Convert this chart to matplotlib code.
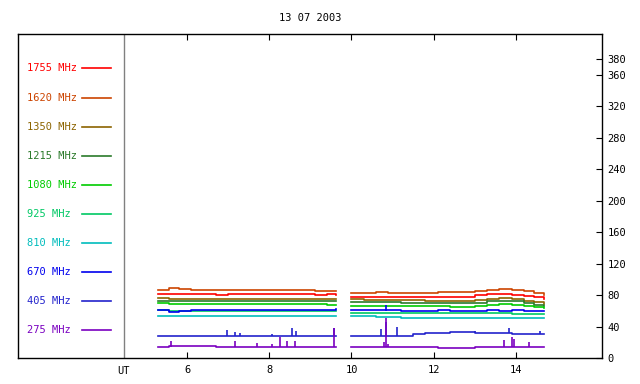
import matplotlib
matplotlib.use("Agg")
import matplotlib.pyplot as plt

# channels, top to bottom in the legend box
freqs = ["1755 MHz", "1620 MHz", "1350 MHz", "1215 MHz", "1080 MHz",
         "925 MHz", "810 MHz", "670 MHz", "405 MHz", "275 MHz"]
colors = ["#ff0000", "#cc4400", "#8c6400", "#2a7a2a", "#00cc00",
          "#00c864", "#00bcbc", "#0000ee", "#2222cc", "#7a00c0"]

# two observing runs (UT hours)
t1 = [5.30, 5.55, 5.8, 6.1, 6.4, 6.7, 7.0, 7.3, 7.6, 7.9, 8.2, 8.5, 8.8, 9.1, 9.4, 9.62]
t2 = [9.98, 10.3, 10.6, 10.9, 11.2, 11.5, 11.8, 12.1, 12.4, 12.7, 13.0, 13.3, 13.6,
      13.9, 14.2, 14.45, 14.68]

# flux levels (first run, second run)
v1755 = ([81, 81.5, 81, 81, 81, 80.5, 81, 81, 81, 81.5, 81, 81, 81, 80.5, 81, 80.5],
         [77.5, 77, 77, 77.5, 77, 77, 77, 77.5, 77.5, 78, 79.5, 81, 81.5, 80.5, 79, 77, 75])
v1620 = ([86.5, 88.5, 87.5, 87, 86.5, 86.5, 86.5, 86, 86.5, 86.5, 86.5, 86, 86, 85.5, 85, 85],
         [83, 83, 83.5, 83, 83, 83, 83, 83.5, 83.5, 84, 85, 86.5, 87.5, 86.5, 85, 83, 80.5])
v1350 = ([76, 75.5, 75.5, 75, 75, 75, 75, 75.5, 75.5, 75, 75, 75, 75, 75, 74.5, 74.5],
         [74.5, 74, 74, 74, 73.5, 73.5, 73, 73, 72.5, 72.5, 73.5, 75.5, 76, 75, 73, 71, 69])
v1215 = ([72.5, 73, 73, 72.5, 72.5, 73, 73, 72.5, 72.5, 73, 73, 73, 72.5, 72.5, 72.5, 72],
         [71.5, 71, 71, 71, 70.5, 70.5, 70, 70, 69.5, 69.5, 70.5, 72, 73, 72, 70, 68, 66])
v1080 = ([69.5, 69, 69, 69, 68.5, 68.5, 69, 69, 69, 69, 68.5, 68.5, 68.5, 68.5, 67.5, 67],
         [66.5, 66.5, 66.5, 66, 66, 66, 65.5, 65.5, 65, 65, 66, 67.5, 68.5, 68, 66.5, 65, 64])
v925 = ([60.5, 60, 60, 60, 60, 60, 60, 60, 60, 60, 60, 60, 60, 60, 60, 60],
        [57.5, 57.5, 57.5, 57.5, 57, 57, 57, 57, 57, 57, 57, 57, 57, 56.5, 56.5, 56.5, 56.5])
v810 = ([53, 53, 53.5, 53.5, 53, 53.5, 53.5, 53, 53, 53, 53, 53, 53.5, 53, 53, 53],
        [53, 53, 52.5, 52.5, 51.5, 51.5, 51.5, 51.5, 51.5, 51.5, 51.5, 51.5, 51.5, 51.5, 51.5, 51.5, 51.5])
v670 = ([61, 59, 59.5, 60.5, 61, 60.5, 61, 60.5, 61, 61, 60.5, 61, 60.5, 61, 61.5, 62],
        [61, 60.5, 60.5, 60.5, 60, 60, 60, 60.5, 60, 59.5, 60, 61, 60, 60.5, 60, 59.5, 60])
v405 = ([28.5, 28.5, 28.5, 28.5, 28.5, 28.5, 28.5, 28.5, 28.5, 28.5, 28.5, 28.5, 28.5, 28.5, 28.5, 28.5],
        [27.5, 27.5, 27.5, 28, 28.5, 30.5, 31.5, 32, 32.5, 32.5, 32, 32, 31.5, 30.5, 30, 30, 30])
v275 = ([14, 15, 15, 15, 15, 14.5, 14, 14.5, 14.5, 14.5, 14.5, 14.5, 14.5, 14.5, 14.5, 14.5],
        [14, 14, 14, 14, 14, 14, 14, 13, 13, 13, 14, 14, 14, 14, 14, 14, 14])
series = [v1755, v1620, v1350, v1215, v1080, v925, v810, v670, v405, v275]

# bursts: time, base, peak
spk405_t = [6.97, 7.17, 7.29, 8.06, 8.55, 8.65, 9.57, 10.73, 10.85, 11.1, 13.0, 13.84, 14.58]
spk405_lo = [28.5, 28.5, 28.5, 28.5, 28.5, 28.5, 28.5, 28, 28, 28, 32, 31.5, 30]
spk405_hi = [35.6, 33.5, 32, 31, 37.7, 34, 37.7, 36.5, 46, 40, 34.5, 38, 34]
spk275_t = [5.61, 7.17, 7.71, 8.06, 8.27, 8.43, 8.63, 9.57, 10.78, 10.85, 10.9, 13.72, 13.91, 13.95, 14.32]
spk275_lo = [14.5, 14.5, 14.5, 14.5, 14.5, 14.5, 14.5, 14.5, 14, 14, 14, 14, 14, 14, 14]
spk275_hi = [21.6, 21.6, 19, 18, 27, 21.6, 22, 37.7, 20, 51, 18, 23, 27, 24, 20]
spk670_t = [10.85]
spk670_lo = [60]
spk670_hi = [68]

yticks = [0, 40, 80, 120, 160, 200, 240, 280, 320, 360, 380]
xticks = [6, 8, 10, 12, 14]

W, H = 640, 384
fig = plt.figure(figsize=(W / 100, H / 100), dpi=100)
ax = fig.add_axes([18 / W, 1 - 358 / H, 584 / W, 324 / H])
ax.set_xlim(1.88, 16.1)
ax.set_ylim(0, 412)

for (a, b), c in zip(series, colors):
    ax.plot(t1, a, color=c, lw=1.2, drawstyle="steps-post")
    ax.plot(t2, b, color=c, lw=1.2, drawstyle="steps-post")

ax.vlines(spk405_t, spk405_lo, spk405_hi, color=colors[8], lw=1.2)
ax.vlines(spk275_t, spk275_lo, spk275_hi, color=colors[9], lw=1.2)
ax.vlines(spk670_t, spk670_lo, spk670_hi, color=colors[7], lw=1.2)

# divider between legend box and data
ax.axvline(4.46, color="#808080", lw=1)

# legend: coloured label + short line
mono = "DejaVu Sans Mono"
ys = [68, 98, 127, 156, 185, 214, 243, 272, 301, 330]
for lab, c, yp in zip(freqs, colors, ys):
    yf = (358 - yp) / 324
    ax.text(9 / 584, yf, lab, color=c, transform=ax.transAxes, fontsize=7.5,
            family=mono, va="center", ha="left")
    ax.plot([64 / 584, 93 / 584], [yf, yf], color=c, lw=1.2, transform=ax.transAxes)

ax.set_xticks(xticks)
ax.set_xticklabels([str(x) for x in xticks], family=mono, fontsize=7.5)
ax.tick_params(axis="x", direction="in", length=4, top=True, pad=5)
ax.yaxis.tick_right()
ax.set_yticks(yticks)
ax.set_yticklabels([str(y) for y in yticks], family=mono, fontsize=7.5)
ax.tick_params(axis="y", direction="in", length=4, pad=4, left=False)
for s in ax.spines.values():
    s.set_linewidth(1)

fig.text(310 / W, 1 - 18 / H, "13 07 2003", family=mono, fontsize=7.5, ha="center", va="center")
fig.text(123 / W, 1 - 371 / H, "UT", family=mono, fontsize=7.5, ha="center", va="center")

fig.savefig("out.png", dpi=100)
